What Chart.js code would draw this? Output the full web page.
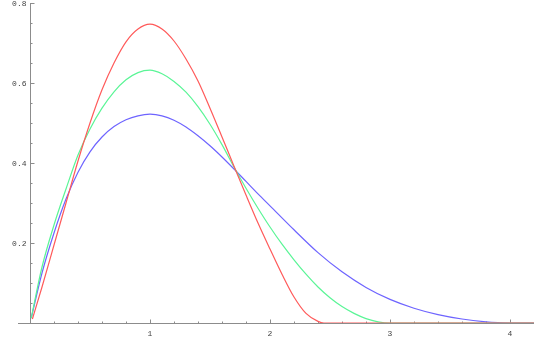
<!DOCTYPE html>
<html>
<head>
<meta charset="utf-8">
<script src="https://cdn.jsdelivr.net/npm/chart.js@4/dist/chart.umd.min.js"></script>
<style>
  body { margin: 0; background: #fff; }
</style>
</head>
<body>
<canvas id="myChart" width="545" height="337"></canvas>
<script>
let redX = [0.02, 0.1, 0.2, 0.3, 0.4, 0.5, 0.6, 0.7, 0.8, 0.9, 1.0, 1.1, 1.2, 1.3, 1.4, 1.5, 1.6, 1.7, 1.8, 1.9, 2.0, 2.1, 2.2, 2.3, 2.4, 2.45, 4.2];
let redY = [0.01, 0.09, 0.195, 0.30, 0.405, 0.50, 0.583, 0.65, 0.703, 0.735, 0.747, 0.735, 0.705, 0.66, 0.605, 0.537, 0.465, 0.392, 0.32, 0.25, 0.185, 0.122, 0.065, 0.024, 0.004, 0, 0];

let greenX = [0.01, 0.1, 0.2, 0.3, 0.4, 0.5, 0.6, 0.7, 0.8, 0.9, 1.0, 1.1, 1.2, 1.3, 1.4, 1.5, 1.6, 1.7, 1.8, 1.9, 2.0, 2.1, 2.2, 2.3, 2.4, 2.5, 2.6, 2.7, 2.8, 2.9, 3.0, 4.2];
let greenY = [0.012, 0.14, 0.245, 0.335, 0.42, 0.485, 0.537, 0.578, 0.608, 0.626, 0.632, 0.623, 0.604, 0.577, 0.541, 0.497, 0.446, 0.39, 0.337, 0.287, 0.24, 0.197, 0.158, 0.122, 0.09, 0.063, 0.041, 0.024, 0.011, 0.003, 0, 0];

let blueX = [0.01, 0.1, 0.2, 0.3, 0.4, 0.5, 0.6, 0.7, 0.8, 0.9, 1.0, 1.1, 1.2, 1.3, 1.4, 1.5, 1.6, 1.7, 1.8, 1.9, 2.0, 2.2, 2.4, 2.6, 2.8, 3.0, 3.2, 3.4, 3.6, 3.8, 3.9, 4.0, 4.2];
let blueY = [0.012, 0.125, 0.225, 0.31, 0.377, 0.428, 0.465, 0.491, 0.508, 0.518, 0.522, 0.518, 0.507, 0.49, 0.468, 0.443, 0.415, 0.385, 0.354, 0.323, 0.293, 0.233, 0.176, 0.128, 0.089, 0.059, 0.037, 0.021, 0.01, 0.003, 0.001, 0, 0];

let xTicks = [1, 2, 3, 4];
let yTicks = [0.2, 0.4, 0.6, 0.8];

function pts(xs, ys) {
    return xs.map((x, i) => ({ x: x, y: ys[i] }));
}

// axes drawn through the origin, Mathematica style
let axesPlugin = {
    id: 'axes',
    beforeDatasetsDraw(chart) {
        let ctx = chart.ctx;
        let sx = chart.scales.x;
        let sy = chart.scales.y;
        let x0 = Math.round(sx.getPixelForValue(0)) + 0.5;
        let y0 = Math.round(sy.getPixelForValue(0)) + 0.5;
        ctx.save();
        ctx.strokeStyle = '#8c8c8c';
        ctx.lineWidth = 1;
        ctx.beginPath();
        ctx.moveTo(sx.left, y0);
        ctx.lineTo(sx.right, y0);
        ctx.moveTo(x0, y0);
        ctx.lineTo(x0, sy.getPixelForValue(0.8));
        // x minor / major ticks
        for (let v = 0.2; v <= 4.2; v += 0.2) {
            let px = Math.round(sx.getPixelForValue(v)) + 0.5;
            let major = Math.abs(v - Math.round(v)) < 0.01;
            ctx.moveTo(px, y0);
            ctx.lineTo(px, y0 - (major ? 4 : 2));
        }
        // y minor / major ticks
        for (let v = 0.05; v <= 0.801; v += 0.05) {
            let py = Math.round(sy.getPixelForValue(v)) + 0.5;
            let major = Math.abs(v * 5 - Math.round(v * 5)) < 0.01;
            ctx.moveTo(x0, py);
            ctx.lineTo(x0 + (major ? 4 : 2), py);
        }
        ctx.stroke();

        ctx.fillStyle = '#444';
        ctx.font = '8px "Liberation Mono", "DejaVu Sans Mono", monospace';
        ctx.textAlign = 'center';
        ctx.textBaseline = 'top';
        xTicks.forEach(v => {
            ctx.fillText(String(v), sx.getPixelForValue(v), y0 + 6);
        });
        ctx.textAlign = 'right';
        ctx.textBaseline = 'middle';
        yTicks.forEach(v => {
            ctx.fillText(v.toFixed(1), x0 - 4, sy.getPixelForValue(v) + 1);
        });
        ctx.restore();
    }
};

function series(xs, ys, color) {
    return {
        data: pts(xs, ys),
        borderColor: color,
        borderWidth: 1.2,
        pointRadius: 0,
        fill: false,
        cubicInterpolationMode: 'monotone'
    };
}

let myChart = document.getElementById("myChart").getContext('2d');

let chart = new Chart(myChart, {
    type: 'line',
    data: {
        datasets: [
            series(redX, redY, 'rgb(255, 90, 90)'),
            series(greenX, greenY, 'rgb(90, 245, 150)'),
            series(blueX, blueY, 'rgb(110, 100, 255)')
        ]
    },
    options: {
        responsive: false,
        animation: false,
        layout: {
            padding: { left: 18, right: 11, top: 3, bottom: 14 }
        },
        scales: {
            x: { type: 'linear', min: -0.1, max: 4.2, display: false },
            y: { type: 'linear', min: 0, max: 0.8, display: false }
        },
        plugins: {
            legend: { display: false },
            tooltip: { enabled: false }
        }
    },
    plugins: [axesPlugin]
});
</script>
</body>
</html>
